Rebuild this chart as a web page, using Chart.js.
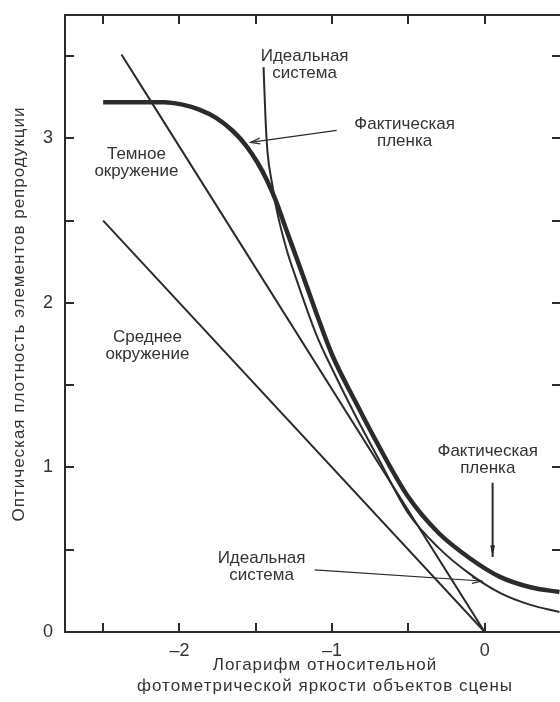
<!DOCTYPE html>
<html lang="ru">
<head>
<meta charset="UTF-8">
<title>Характеристические кривые</title>
<script src="https://cdn.jsdelivr.net/npm/chart.js"></script>
<style>
    body { margin: 0; padding: 0; background: #fff; overflow: hidden; }
    .wrap { width: 600px; height: 702px; }
</style>
</head>
<body>
<div class="wrap"><canvas id="chart" width="600" height="702"></canvas></div>
<script>
// values: x = log relative luminance, y = density
const filmX = [-2.5, -2.1, -1.98, -1.87, -1.76, -1.65, -1.56, -1.49, -1.43, -1.37, -1.30, -1.20, -1.10, -1.00, -0.85, -0.70, -0.50, -0.30, -0.10, 0.10, 0.30, 0.49];
const filmY = [3.22, 3.22, 3.205, 3.175, 3.125, 3.045, 2.952, 2.855, 2.752, 2.625, 2.445, 2.19, 1.93, 1.685, 1.405, 1.14, 0.82, 0.60, 0.45, 0.335, 0.272, 0.243];

const idealX = [-1.449, -1.436, -1.423, -1.39, -1.364, -1.298, -1.233, -1.10, -1.00, -0.85, -0.70, -0.50, -0.30, -0.10, 0.10, 0.30, 0.49];
const idealY = [3.433, 3.116, 2.915, 2.71, 2.57, 2.325, 2.142, 1.80, 1.60, 1.32, 1.06, 0.72, 0.51, 0.355, 0.238, 0.165, 0.122];

const darkX = [-2.38, 0];
const darkY = [3.51, 0];
const avgX = [-2.5, 0];
const avgY = [2.5, 0];

const xTicks = [-2.5, -2, -1.5, -1, -0.5, 0, 0.5];
const yTicks = [0.5, 1, 1.5, 2, 2.5, 3, 3.5];
const xLabelled = [-2, -1, 0];
const yLabelled = [0, 1, 2, 3];

// text notes: x, y of the first line (data units)
const notes = [
    { x: -1.18, y: 3.50, lines: ['Идеальная', 'система'] },
    { x: -0.525, y: 3.086, lines: ['Фактическая', 'пленка'] },
    { x: -2.282, y: 2.903, lines: ['Темное', 'окружение'] },
    { x: -2.21, y: 1.789, lines: ['Среднее', 'окружение'] },
    { x: 0.02, y: 1.096, lines: ['Фактическая', 'пленка'] },
    { x: -1.462, y: 0.450, lines: ['Идеальная', 'система'] }
];
// arrows: from -> to (data units)
const arrows = [
    { x1: -0.970, y1: 3.049, x2: -1.534, y2: 2.976, w: 1.2, solid: false },
    { x1: 0.052, y1: 0.907, x2: 0.052, y2: 0.456, w: 2, solid: true },
    { x1: -1.115, y1: 0.377, x2: -0.020, y2: 0.310, w: 1.2, solid: false }
];

const ink = '#2b2b2b';
const txt = '#333';
const font = '"Liberation Sans", Arial, sans-serif';

function pts(xs, ys) {
    return xs.map((x, i) => ({ x: x, y: ys[i] }));
}

function drawArrow(ctx, ax, ay, bx, by, w, solid) {
    const ang = Math.atan2(by - ay, bx - ax);
    ctx.save();
    ctx.strokeStyle = ink;
    ctx.fillStyle = ink;
    ctx.lineWidth = w;
    ctx.beginPath();
    ctx.moveTo(ax, ay);
    ctx.lineTo(bx, by);
    ctx.stroke();
    if (solid) {
        const len = 12, half = 0.2;
        ctx.beginPath();
        ctx.moveTo(bx, by);
        ctx.lineTo(bx - len * Math.cos(ang - half), by - len * Math.sin(ang - half));
        ctx.lineTo(bx - len * Math.cos(ang + half), by - len * Math.sin(ang + half));
        ctx.closePath();
        ctx.fill();
    } else {
        const len = 10, half = 0.3;
        ctx.beginPath();
        ctx.moveTo(bx - len * Math.cos(ang - half), by - len * Math.sin(ang - half));
        ctx.lineTo(bx, by);
        ctx.lineTo(bx - len * Math.cos(ang + half), by - len * Math.sin(ang + half));
        ctx.stroke();
    }
    ctx.restore();
}

const framePlugin = {
    id: 'frame',
    afterDraw(chart) {
        const ctx = chart.ctx;
        const a = chart.chartArea;
        const xs = chart.scales.x, ys = chart.scales.y;
        ctx.save();
        ctx.strokeStyle = ink;
        ctx.lineWidth = 2;
        ctx.strokeRect(a.left, a.top, a.right - a.left, a.bottom - a.top);

        // inward tick marks on all four sides
        const tl = 9;
        ctx.beginPath();
        xTicks.forEach(v => {
            const px = Math.round(xs.getPixelForValue(v));
            ctx.moveTo(px, a.bottom); ctx.lineTo(px, a.bottom - tl);
            ctx.moveTo(px, a.top); ctx.lineTo(px, a.top + tl);
        });
        yTicks.forEach(v => {
            const py = Math.round(ys.getPixelForValue(v));
            ctx.moveTo(a.left, py); ctx.lineTo(a.left + tl, py);
            ctx.moveTo(a.right, py); ctx.lineTo(a.right - tl, py);
        });
        ctx.stroke();

        // notes
        ctx.fillStyle = txt;
        ctx.font = '17px ' + font;
        ctx.textAlign = 'center';
        ctx.textBaseline = 'middle';
        notes.forEach(n => {
            const px = xs.getPixelForValue(n.x);
            const py = ys.getPixelForValue(n.y);
            n.lines.forEach((l, i) => ctx.fillText(l, px, py + i * 17));
        });

        arrows.forEach(r => drawArrow(ctx,
            xs.getPixelForValue(r.x1), ys.getPixelForValue(r.y1),
            xs.getPixelForValue(r.x2), ys.getPixelForValue(r.y2), r.w, r.solid));

        // axis titles
        ctx.font = '17px ' + font;
        ctx.letterSpacing = '1px';
        ctx.fillText('Логарифм относительной', 325, 665);
        ctx.fillText('фотометрической яркости объектов сцены', 325, 686);
        ctx.translate(19, 314);
        ctx.rotate(-Math.PI / 2);
        ctx.fillText('Оптическая плотность элементов репродукции', 0, 0);
        ctx.restore();
    }
};

const line = (data, w) => ({
    data: data,
    showLine: true,
    borderColor: ink,
    borderWidth: w,
    pointRadius: 0,
    fill: false,
    cubicInterpolationMode: 'monotone'
});

new Chart(document.getElementById('chart'), {
    type: 'scatter',
    data: {
        datasets: [
            line(pts(avgX, avgY), 2),
            line(pts(darkX, darkY), 2),
            line(pts(idealX, idealY), 2),
            line(pts(filmX, filmY), 4.5)
        ]
    },
    options: {
        responsive: false,
        animation: false,
        layout: { padding: { top: 15, right: 39, left: 0, bottom: 0 } },
        plugins: { legend: { display: false }, tooltip: { enabled: false } },
        scales: {
            x: {
                type: 'linear',
                min: -2.75,
                max: 0.5,
                afterFit: s => { s.height = 70; s.paddingLeft = 0; s.paddingRight = 0; },
                grid: { display: false, drawTicks: false },
                border: { display: false },
                ticks: {
                    stepSize: 0.5,
                    padding: 8,
                    maxRotation: 0,
                    autoSkip: false,
                    color: txt,
                    font: { family: font, size: 18 },
                    callback: v => xLabelled.includes(v) ? (v < 0 ? '–' + Math.abs(v) : String(v)) : ''
                }
            },
            y: {
                min: 0,
                max: 3.75,
                afterFit: s => { s.width = 65; s.paddingTop = 0; s.paddingBottom = 0; },
                grid: { display: false, drawTicks: false },
                border: { display: false },
                ticks: {
                    stepSize: 0.5,
                    padding: 12,
                    autoSkip: false,
                    color: txt,
                    font: { family: font, size: 18 },
                    callback: v => yLabelled.includes(v) ? String(v) : ''
                }
            }
        }
    },
    plugins: [framePlugin]
});
</script>
</body>
</html>
